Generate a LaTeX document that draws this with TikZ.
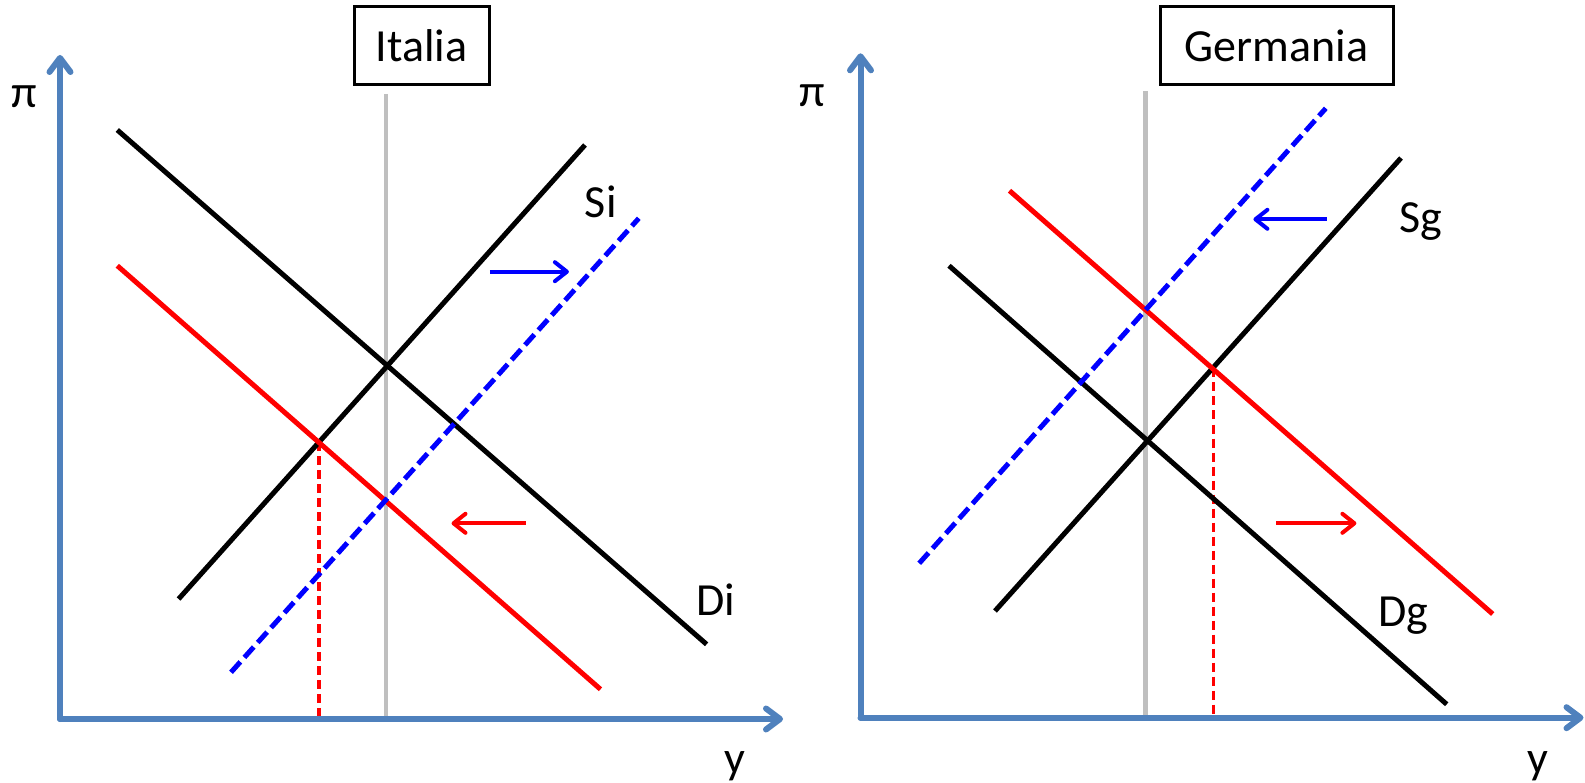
\documentclass[tikz,border=0pt]{standalone}
\usepackage{fontspec}
\setmainfont{Carlito}
\usetikzlibrary{arrows.meta}
\definecolor{axisblue}{RGB}{79,129,189}
\definecolor{guidegray}{RGB}{191,191,191}
\definecolor{shiftblue}{RGB}{0,0,255}
\definecolor{shiftred}{RGB}{255,0,0}
\begin{document}
\begin{tikzpicture}[x=1pt,y=-1pt,
  axisline/.style={draw=axisblue,line width=6pt,line cap=round,
    -{Straight Barb[length=14pt,width=21pt,round]}},
  oldcurve/.style={draw=black,line width=5pt},
  newdemand/.style={draw=shiftred,line width=5pt},
  newsupply/.style={draw=shiftblue,line width=5pt,dash pattern=on 14pt off 6pt},
  guide/.style={draw=guidegray,line width=4.5pt},
  dropline/.style={draw=shiftred,line width=3.5pt,dash pattern=on 9pt off 5pt},
  bluearrow/.style={draw=shiftblue,line width=4pt,-{Straight Barb[length=12pt,width=19pt,round]}},
  redarrow/.style={draw=shiftred,line width=4pt,-{Straight Barb[length=12pt,width=19pt,round]}},
  lbl/.style={inner sep=0pt,anchor=base,font=\fontsize{46}{55}\selectfont},
  titlebox/.style={draw=black,line width=3pt,fill=white}
]
\useasboundingbox (0,0) rectangle (1585,783);

% ================= Italia =================
\coordinate (Lo)  at (60,719);
\coordinate (Lyt) at (60,55);
\coordinate (Lxt) at (783,719);
\coordinate (Lgt) at (386,94);
\coordinate (Lgb) at (386,719);
\coordinate (LDa) at (117.3,130);
\coordinate (LDb) at (706.6,644.3);
\coordinate (LSa) at (178.6,599);
\coordinate (LSb) at (585,145);
\coordinate (LNSa) at (231,672.3);
\coordinate (LNSb) at (638.8,218.3);
\coordinate (LNDa) at (117.3,265.7);
\coordinate (LNDb) at (600.5,689.3);
\coordinate (LE)  at (318.8,442.4);
\coordinate (LEb) at (318.8,719);
\coordinate (LBa) at (489.8,271.7);
\coordinate (LBb) at (568.9,271.7);
\coordinate (LRa) at (525.5,523.3);
\coordinate (LRb) at (451.5,523.3);

\draw[guide] (Lgt) -- (Lgb);
\draw[dropline] (LE) -- (LEb);
\draw[oldcurve] (LDa) -- (LDb);
\draw[oldcurve] (LSa) -- (LSb);
\draw[newdemand] (LNDa) -- (LNDb);
\draw[newsupply] (LNSa) -- (LNSb);
\draw[bluearrow] (LBa) -- (LBb);
\draw[redarrow] (LRa) -- (LRb);
\draw[axisline] (Lo) -- (Lyt);
\draw[axisline] (Lo) -- (Lxt);
\draw[titlebox] (354,7) rectangle (489.3,85);
\node[lbl] (titleL) at (421.6,61.7) {Italia};
\node[lbl] (piL) at (24.7,108) {π};
\node[lbl] (yL) at (735,773) {y};
\node[lbl] (Si) at (600.8,218) {Si};
\node[lbl] (Di) at (716,615) {Di};

% ================= Germania =================
\coordinate (Ro)  at (860.5,717.7);
\coordinate (Ryt) at (860.5,53.3);
\coordinate (Rxt) at (1583.5,717.7);
\coordinate (Rgt) at (1145.7,91);
\coordinate (Rgb) at (1145.7,717.7);
\coordinate (RDa) at (949,265.7);
\coordinate (RDb) at (1446.7,704.3);
\coordinate (RSa) at (995,611);
\coordinate (RSb) at (1401,158);
\coordinate (RNSa) at (919.2,563.3);
\coordinate (RNSb) at (1325.8,108.3);
\coordinate (RNDa) at (1009.5,190.7);
\coordinate (RNDb) at (1492.7,614);
\coordinate (RE)  at (1213.5,368.5);
\coordinate (REb) at (1213.5,717.7);
\coordinate (RBa) at (1326.8,219.3);
\coordinate (RBb) at (1253.4,219.3);
\coordinate (RRa) at (1276.3,523.3);
\coordinate (RRb) at (1356.4,523.3);

\draw[guide] (Rgt) -- (Rgb);
\draw[dropline] (RE) -- (REb);
\draw[oldcurve] (RDa) -- (RDb);
\draw[oldcurve] (RSa) -- (RSb);
\draw[newdemand] (RNDa) -- (RNDb);
\draw[newsupply] (RNSa) -- (RNSb);
\draw[bluearrow] (RBa) -- (RBb);
\draw[redarrow] (RRa) -- (RRb);
\draw[axisline] (Ro) -- (Ryt);
\draw[axisline] (Ro) -- (Rxt);
\draw[titlebox] (1160,7) rectangle (1393,85);
\node[lbl] (titleR) at (1276.5,61.7) {Germania};
\node[lbl] (piR) at (812,107) {π};
\node[lbl] (yR) at (1538,773) {y};
\node[lbl] (Sg) at (1420.4,233) {Sg};
\node[lbl] (Dg) at (1403,626.7) {Dg};
\end{tikzpicture}
\end{document}
